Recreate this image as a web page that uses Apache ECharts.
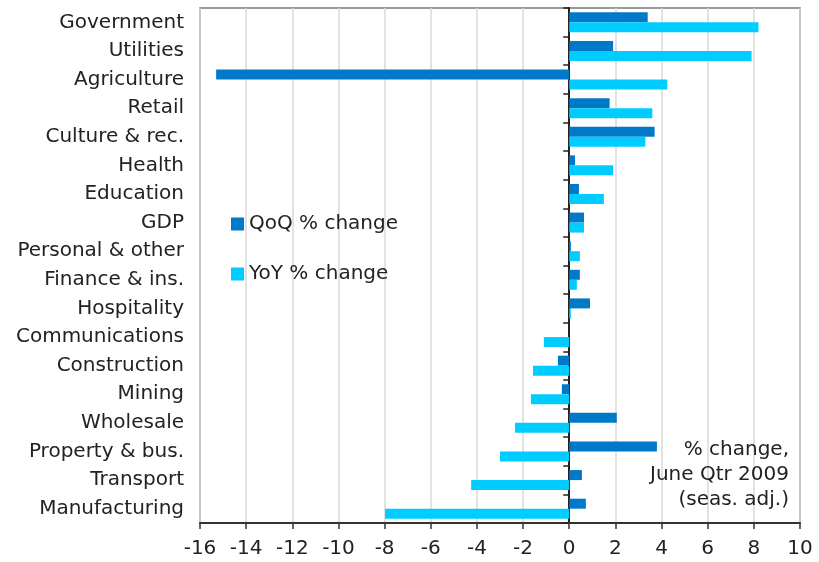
<!DOCTYPE html>
<html>
<head>
<meta charset="utf-8">
<script src="https://cdn.jsdelivr.net/npm/echarts@6/dist/echarts.min.js"></script>
<style>
html, body { margin: 0; padding: 0; background: #fff; }
#main { width: 819px; height: 562px; }
</style>
</head>
<body>
<div id="main"></div>
<script>
/* categories, top to bottom */
var categories = ['Government', 'Utilities', 'Agriculture', 'Retail', 'Culture & rec.', 'Health',
	'Education', 'GDP', 'Personal & other', 'Finance & ins.', 'Hospitality', 'Communications',
	'Construction', 'Mining', 'Wholesale', 'Property & bus.', 'Transport', 'Manufacturing'];

var qoq = [3.4, 1.9, -15.3, 1.75, 3.7, 0.25, 0.42, 0.64, 0.07, 0.46, 0.9, 0, -0.49, -0.32, 2.06, 3.8, 0.55, 0.72];
var yoy = [8.2, 7.9, 4.25, 3.6, 3.3, 1.9, 1.5, 0.64, 0.46, 0.33, 0.07, -1.1, -1.57, -1.66, -2.35, -3.0, -4.25, -7.98];

var x_ticks = { min: -16, max: 10, interval: 2 };

var font = 'DejaVu Sans, Verdana, sans-serif';
var text_color = '#222';
var font_size = 20;

var qoq_color = '#0079C9';
var yoy_color = '#00CCFF';

var grid_left = 200, grid_right = 19;
var plot_width = 819 - grid_left - grid_right;
// pixel distance from the left edge of the grid to x = 0
var zero_offset = plot_width * (0 - x_ticks.min) / (x_ticks.max - x_ticks.min);

var chart = echarts.init(document.getElementById('main'));

var option = {
	animation: false,
	textStyle: { fontFamily: font, color: text_color },
	grid: {
		left: grid_left, right: grid_right, top: 8, bottom: 39,
		show: true, borderColor: '#777', borderWidth: 1.5
	},
	legend: {
		orient: 'vertical',
		left: 231, top: 214,
		padding: 0,
		itemWidth: 13, itemHeight: 13,
		itemGap: 30,
		itemTextGap: 5,
		icon: 'rect',
		textStyle: { fontFamily: font, fontSize: font_size, color: text_color, lineHeight: 20 },
		data: ['QoQ % change', 'YoY % change']
	},
	xAxis: {
		type: 'value',
		min: x_ticks.min, max: x_ticks.max, interval: x_ticks.interval,
		axisLine: { show: true, onZero: false, lineStyle: { color: '#333', width: 2 } },
		axisTick: { show: true, length: 6, lineStyle: { color: '#333', width: 1.5 } },
		axisLabel: { fontFamily: font, fontSize: font_size, color: text_color, margin: 16 },
		splitLine: { show: true, lineStyle: { color: '#d9d9d9', width: 1.5 } }
	},
	yAxis: [{
		type: 'category',
		position: 'left',
		inverse: true,
		data: categories,
		axisLine: { show: false, onZero: false },
		axisTick: { show: false },
		axisLabel: { fontFamily: font, fontSize: font_size, color: text_color, margin: 16 }
	}, {
		// zero line with the category ticks, shifted onto x = 0
		type: 'category',
		position: 'left',
		offset: -zero_offset,
		data: categories,
		axisLine: { show: true, onZero: false, lineStyle: { color: '#222', width: 2 } },
		axisTick: { show: true, length: 6, lineStyle: { color: '#222', width: 1.5 } },
		axisLabel: { show: false }
	}],
	graphic: [{
		type: 'text',
		x: 789, y: 437,
		style: {
			text: '% change,\nJune Qtr 2009\n(seas. adj.)',
			fontFamily: font, fontSize: font_size, fill: text_color,
			align: 'right', verticalAlign: 'top', lineHeight: 25
		},
		z: 10
	}],
	series: [{
		name: 'QoQ % change',
		type: 'bar',
		yAxisIndex: 0,
		barWidth: 10,
		barGap: '0%',
		itemStyle: { color: qoq_color },
		data: qoq
	}, {
		name: 'YoY % change',
		type: 'bar',
		yAxisIndex: 0,
		barWidth: 10,
		barGap: '0%',
		itemStyle: { color: yoy_color },
		data: yoy
	}]
};

chart.setOption(option);
</script>
</body>
</html>
